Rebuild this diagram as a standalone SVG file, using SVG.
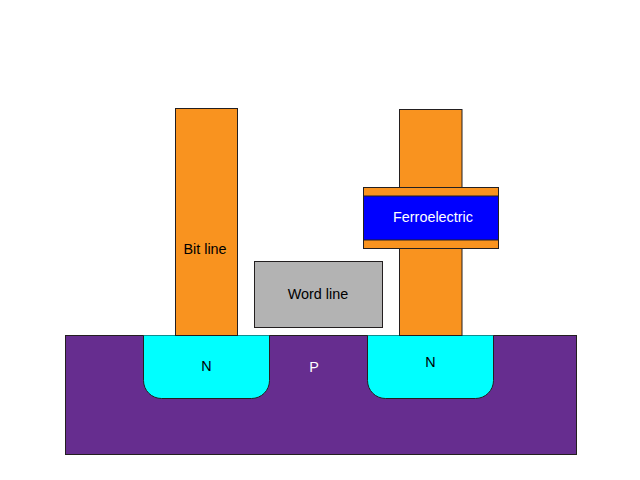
<svg xmlns="http://www.w3.org/2000/svg" width="640" height="480" viewBox="0 0 640 480">
<style>
.s{stroke:#231f20;stroke-width:1}
.o{fill:#f9931f}
text{font-family:"Liberation Sans",Arial,sans-serif;font-size:14.4px;text-anchor:middle}
</style>
<rect width="640" height="480" fill="#fff"/>
<g id="substrate"><rect class="s" x="65.500" y="335.500" width="511" height="119" fill="#662d8f"/><text x="314" y="372" fill="#fff">P</text></g>
<g id="source"><path class="s" d="M143.500 335.500V380.500A18 18 0 0 0 161.500 398.500H251.500A18 18 0 0 0 269.500 380.500V335.500" fill="#0ff"/><text x="206.500" y="371" fill="#000">N</text></g>
<g id="drain"><path class="s" d="M367.500 335.500V380.500A18 18 0 0 0 385.500 398.500H475.500A18 18 0 0 0 493.500 380.500V335.500" fill="#0ff"/><text x="430.500" y="366.500" fill="#000">N</text></g>
<g id="bit-line"><rect class="s o" x="175.500" y="108.500" width="62" height="227"/><text x="205" y="254" fill="#000">Bit line</text></g>
<g id="word-line"><rect class="s" x="254.500" y="261.500" width="128" height="66" fill="#b3b3b3"/><text x="318" y="299" fill="#000">Word line</text></g>
<g id="upper-pillar"><rect class="s o" x="399.500" y="109.500" width="62.500" height="78"/></g>
<g id="lower-pillar"><rect class="s o" x="399.500" y="248.500" width="62.500" height="87"/></g>
<g id="ferroelectric"><rect class="s o" x="363.500" y="187.500" width="135" height="61"/><rect class="s" x="363.500" y="196" width="135" height="44" fill="#00f"/><text x="433" y="222" fill="#fff">Ferroelectric</text></g>
</svg>
